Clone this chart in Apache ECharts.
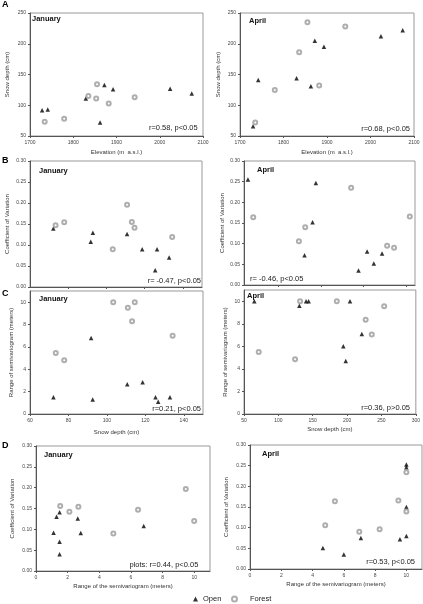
<!DOCTYPE html>
<html>
<head>
<meta charset="utf-8">
<script src="https://cdn.jsdelivr.net/npm/echarts@6/dist/echarts.min.js"></script>
<style>
  html, body { margin: 0; padding: 0; background: #fff; }
  #chart { width: 423px; height: 604px; }
</style>
</head>
<body>
<div id="chart"></div>
<script>
// A: elevation (m a.s.l.) vs snow depth (cm)
const aJanOpen = [[1728,92],[1741,93],[1829,111],[1862,72],[1872,133],[1892,126],[2024,127],[2074,119]];
const aJanForest = [[1734,73],[1779,78],[1835,115],[1853,111],[1855,134],[1882,103],[1942,113]];
const aAprOpen = [[1730,66],[1742,141],[1830,144],[1863,131],[1872,205],[1893,195],[2024,212],[2074,222]];
const aAprForest = [[1735,72],[1780,125],[1836,186],[1854,254],[1855,235],[1882,132],[1942,228]];

// B: snow depth (cm) vs coefficient of variation
const bJanOpen = [[72.2,0.139],[91.8,0.108],[92.9,0.129],[110.8,0.126],[118.7,0.090],[126.5,0.090],[125.5,0.040],[132.8,0.070]];
const bJanForest = [[73.4,0.147],[77.9,0.154],[103.3,0.090],[110.8,0.196],[113.3,0.155],[114.7,0.141],[134.4,0.119]];
const bAprOpen = [[64.6,0.255],[130.8,0.072],[140.2,0.152],[144.1,0.247],[193.9,0.035],[204,0.081],[211.8,0.052],[221.5,0.076]];
const bAprForest = [[70.8,0.164],[124.2,0.106],[131.6,0.140],[185.3,0.235],[227.4,0.095],[235.5,0.090],[253.9,0.166]];

// C: snow depth (cm) vs range of semivariogram (m)
const cJanOpen = [[72.2,1.5],[91.8,6.8],[92.6,1.3],[110.6,2.65],[118.6,2.85],[125.3,1.5],[126.7,1.1],[132.8,1.5]];
const cJanForest = [[73.4,5.45],[77.8,4.8],[103.3,10],[110.9,9.5],[113.1,8.3],[114.5,10],[134.2,7.0]];
const cAprOpen = [[65,10],[130.6,9.6],[140.3,10],[144,10],[194.5,6.0],[198,4.7],[204.2,10],[221.4,7.1]];
const cAprForest = [[71.4,5.5],[124.3,4.85],[131.6,10],[185,10],[227,8.35],[235.9,7.05],[253.9,9.55]];

// D: range of semivariogram (m) vs coefficient of variation
const dJanOpen = [[1.11,0.092],[1.3,0.130],[1.49,0.141],[1.49,0.070],[1.49,0.040],[2.64,0.126],[2.83,0.091],[6.81,0.108]];
const dJanForest = [[1.53,0.156],[2.11,0.142],[2.68,0.154],[4.89,0.090],[6.45,0.147],[9.47,0.197],[10,0.120]];
const dAprOpen = [[4.66,0.051],[6.0,0.035],[7.09,0.075],[9.59,0.072],[10,0.080],[10,0.150],[10,0.246],[10,0.253]];
const dAprForest = [[4.81,0.106],[5.43,0.164],[6.99,0.090],[8.29,0.096],[9.49,0.166],[10,0.139],[10,0.234]];

const panelLetters = ['A', 'B', 'C', 'D'];
const months = ['January', 'April'];
const statTexts = ['r=0.58, p<0.05', 'r=0.68, p<0.05', 'r= -0.47, p<0.05', 'r= -0.46, p<0.05',
  'r=0.21, p<0.05', 'r=0.36, p>0.05', 'plots: r=0.44, p<0.05', 'r=0.53, p<0.05'];
const rangeTicks = [0, 2, 4, 6, 8, 10];

const FONT = '"Liberation Sans", Arial, sans-serif';
const chart = echarts.init(document.getElementById('chart'), null, { renderer: 'canvas' });

const grids = [
  { left: 30, top: 13, width: 173, height: 123 },
  { left: 240, top: 13, width: 174, height: 123 },
  { left: 30, top: 161, width: 172, height: 126 },
  { left: 244, top: 161, width: 171, height: 124 },
  { left: 30, top: 291, width: 173, height: 123 },
  { left: 244, top: 290, width: 172, height: 124 },
  { left: 36, top: 446, width: 174, height: 125 },
  { left: 250, top: 445, width: 172, height: 124 }
].map(g => Object.assign({ show: true, borderColor: '#999', borderWidth: 1, backgroundColor: '#fff' }, g));

function axisBase(gi) {
  return {
    type: 'value',
    gridIndex: gi,
    splitLine: { show: false },
    axisLine: { show: true, lineStyle: { color: '#555', width: 1 } },
    axisTick: { show: true, length: 2, lineStyle: { color: '#555' } },
    axisLabel: { fontSize: 5, color: '#444', fontFamily: FONT, margin: 4, formatter: v => String(v) },
    nameTextStyle: { fontSize: 6, color: '#333', fontFamily: FONT },
    nameLocation: 'middle'
  };
}

function xAxis(gi, opt) {
  const a = axisBase(gi);
  a.min = opt.min; a.max = opt.max;
  if (opt.interval) a.interval = opt.interval;
  if (opt.ticks) {
    a.axisTick.customValues = opt.ticks;
    a.axisLabel.customValues = opt.ticks;
  }
  if (opt.name) { a.name = opt.name; a.nameGap = opt.nameGap; }
  if (opt.noLabel) a.axisLabel.show = false;
  return a;
}

function yAxis(gi, opt) {
  const a = axisBase(gi);
  a.min = opt.min; a.max = opt.max;
  if (opt.interval) a.interval = opt.interval;
  if (opt.ticks) {
    a.axisTick.customValues = opt.ticks;
    a.axisLabel.customValues = opt.ticks;
  }
  if (opt.dec) a.axisLabel.formatter = v => v.toFixed(opt.dec);
  a.name = opt.name; a.nameGap = opt.nameGap;
  return a;
}

const cvY = gap => ({ min: 0, max: 0.3, interval: 0.05, dec: 2, name: 'Coefficient of Variation', nameGap: gap });
const rangeY = gap => ({ min: 0, max: 11, ticks: rangeTicks, name: 'Range of semivariogram (meters)', nameGap: gap });

const xAxes = [
  xAxis(0, { min: 1700, max: 2100, interval: 100, name: 'Elevation (m  a.s.l.)', nameGap: 13 }),
  xAxis(1, { min: 1700, max: 2100, interval: 100, name: 'Elevation (m  a.s.l.)', nameGap: 13 }),
  xAxis(2, { min: 60, max: 150, ticks: [80, 100, 120, 140], noLabel: true }),
  xAxis(3, { min: 60, max: 260, ticks: [100, 150, 200, 250], noLabel: true }),
  xAxis(4, { min: 60, max: 150, ticks: [60, 80, 100, 120, 140], name: 'Snow depth (cm)', nameGap: 15 }),
  xAxis(5, { min: 50, max: 300, interval: 50, name: 'Snow depth (cm)', nameGap: 12 }),
  xAxis(6, { min: 0, max: 11, ticks: rangeTicks, name: 'Range of the semivariogram (meters)', nameGap: 12 }),
  xAxis(7, { min: 0, max: 11, ticks: rangeTicks, name: 'Range of the semivariogram (meters)', nameGap: 12 })
];

const yAxes = [
  yAxis(0, { min: 50, max: 250, interval: 50, name: 'Snow depth (cm)', nameGap: 20 }),
  yAxis(1, { min: 50, max: 250, interval: 50, name: 'Snow depth (cm)', nameGap: 19 }),
  yAxis(2, cvY(20)),
  yAxis(3, cvY(19)),
  yAxis(4, rangeY(16)),
  yAxis(5, rangeY(16)),
  yAxis(6, cvY(21)),
  yAxis(7, cvY(21))
];

const panelData = [
  [aJanOpen, aJanForest], [aAprOpen, aAprForest],
  [bJanOpen, bJanForest], [bAprOpen, bAprForest],
  [cJanOpen, cJanForest], [cAprOpen, cAprForest],
  [dJanOpen, dJanForest], [dAprOpen, dAprForest]
];

const series = [];
panelData.forEach((pair, i) => {
  series.push({
    type: 'scatter', name: 'Open', xAxisIndex: i, yAxisIndex: i,
    symbol: 'triangle', symbolSize: 4.5, itemStyle: { color: '#000' },
    data: pair[0], silent: true
  });
  series.push({
    type: 'scatter', name: 'Forest', xAxisIndex: i, yAxisIndex: i,
    symbol: 'emptyCircle', symbolSize: 4, itemStyle: { color: '#9a9a9a', borderWidth: 0.7 },
    data: pair[1], silent: true
  });
});

// text positions
const letterPos = [[2, 0], [2, 156], [2, 289], [2, 441]];
const titlePos = [[32, 15], [249, 17], [39, 167], [257, 166], [39, 295], [247, 292], [44, 451], [262, 450]];
const statPos = [
  { right: 197.7, y: 128 }, { right: 410, y: 129 }, { right: 201, y: 281 }, { left: 250, y: 278.7 },
  { right: 201, y: 408.7 }, { right: 410, y: 407.7 }, { right: 198.3, y: 565 }, { right: 415, y: 562.3 }
];

const graphics = [];
panelLetters.forEach((t, i) => {
  graphics.push({ type: 'text', left: letterPos[i][0], top: letterPos[i][1], z: 10,
    style: { text: t, fontSize: 9, fontWeight: 'bold', fill: '#000', fontFamily: FONT } });
});
titlePos.forEach((p, i) => {
  graphics.push({ type: 'text', left: p[0], top: p[1], z: 10,
    style: { text: months[i % 2], fontSize: 7.5, fontWeight: 'bold', fill: '#111', fontFamily: FONT } });
});
statTexts.forEach((t, i) => {
  const p = statPos[i];
  const g = { type: 'text', z: 10, style: { text: t, fontSize: 7.5, fill: '#222', fontFamily: FONT,
    textVerticalAlign: 'middle' } };
  if (p.left !== undefined) { g.x = p.left; g.style.textAlign = 'left'; }
  else { g.x = p.right; g.style.textAlign = 'right'; }
  g.y = p.y;
  graphics.push(g);
});

chart.setOption({
  animation: false,
  grid: grids,
  xAxis: xAxes,
  yAxis: yAxes,
  series: series,
  graphic: graphics,
  legend: [
    { data: ['Open'], left: 193, top: 595, padding: 0, itemWidth: 5, itemHeight: 5, itemGap: 0,
      selectedMode: false, textStyle: { fontSize: 7.5, color: '#222', fontFamily: FONT } },
    { data: ['Forest'], left: 231, top: 595, padding: 0, itemWidth: 5, itemHeight: 5, itemGap: 0,
      selectedMode: false, textStyle: { fontSize: 7.5, color: '#222', fontFamily: FONT, padding: [0, 0, 0, 8] } }
  ]
});
</script>
</body>
</html>
